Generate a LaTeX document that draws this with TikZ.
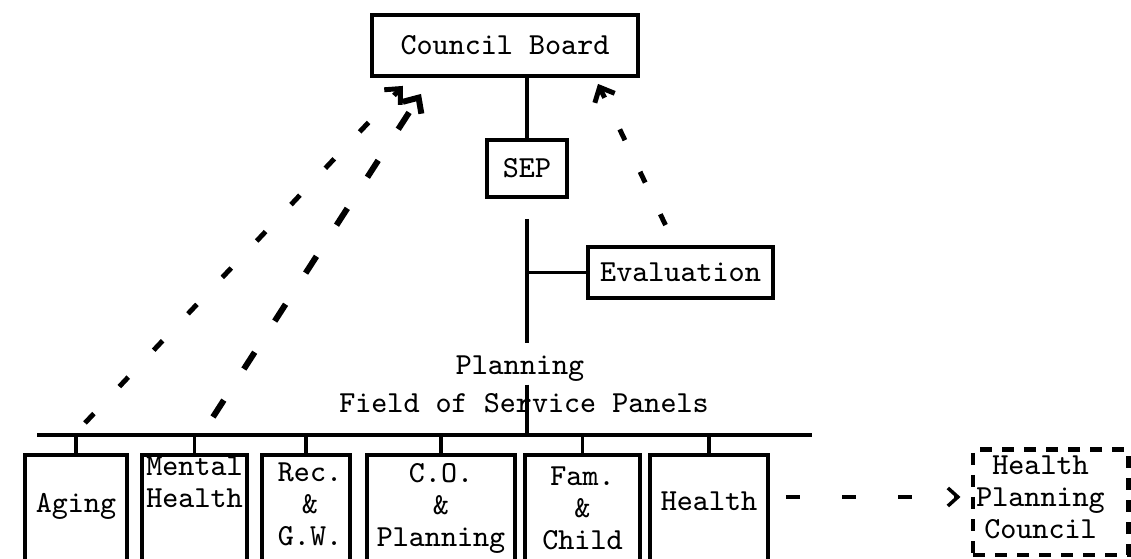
\documentclass[tikz,border=0pt]{standalone}
\usetikzlibrary{arrows.meta, positioning, calc}
\newcommand{\typew}{\fontsize{8.7}{9.1}\selectfont\ttfamily}
\tikzstyle{box} = [rectangle, draw=black, line width=1.1pt, inner sep=0pt, font=\typew]
\tikzstyle{panel} = [box, anchor=north, minimum height=1.3cm]
\tikzstyle{txt} = [inner sep=0pt, align=center, font=\typew]
\tikzstyle{line} = [line width=1pt]
\tikzstyle{back} = [line width=1.4pt, -{Straight Barb[length=1.2mm, width=2.2mm]}]

\begin{document}
\begin{tikzpicture}[x=0.01cm, y=-0.01cm]
\useasboundingbox (0,0) rectangle (1131,559);
\clip (0,0) rectangle (1131,559);

% board and staff
\node[box, minimum width=2.66cm, minimum height=0.61cm] (council) at (505,45.5) {Council Board};
\node[box, minimum width=0.80cm, minimum height=0.57cm] (sep) at (527,168.5) {SEP};
\node[box, minimum width=1.85cm, minimum height=0.51cm] (evaluation) at (680.5,272.5) {Evaluation};

\node[txt, anchor=base] (plan1) at (520,375) {Planning};
\node[txt, anchor=base] (plan2) at (524,413) {Field of Service Panels};

% panels
\coordinate (barL) at (37,435);
\coordinate (barR) at (812,435);
\node[panel, minimum width=1.02cm] (aging) at (76,453) {};
\node[panel, minimum width=1.05cm] (mental) at (194.5,453) {};
\node[panel, minimum width=0.88cm] (rec) at (306,453) {};
\node[panel, minimum width=1.48cm] (co) at (441,453) {};
\node[panel, minimum width=1.15cm] (fam) at (582.5,453) {};
\node[panel, minimum width=1.18cm] (health) at (709,453) {};

\node[txt, below=0.40cm of aging.north] (agingT) {Aging};
\node[txt, below=0.03cm of mental.north] (mentalT) {Mental\\Health};
\node[txt, below=0.09cm of rec.north, xshift=0.04cm] (recT) {Rec.\\\&\\G.W.};
\node[txt, below=0.10cm of co.north] (coT) {C.O.\\\&\\Planning};
\node[txt, below=0.13cm of fam.north] (famT) {Fam.\\\&\\Child};
\node[txt, below=0.38cm of health.north] (healthT) {Health};

\node[box, dash pattern=on 0.12cm off 0.1cm, line width=1.4pt, minimum width=1.55cm, minimum height=1.05cm] (hpc) at (1050.5,502.5) {};
\node[txt, below=0.08cm of hpc.north, xshift=-0.1cm] (hpcT) {Health\\Planning\\Council};

% solid lines
\draw[line] (sep.north |- council.south) -- (sep.north);
\draw[line] ([yshift=-0.2cm]sep.south) -- ([yshift=0.13cm]sep.south |- plan1.north);
\draw[line] ([yshift=-0.02cm]sep.south |- plan1.south) -- (sep.south |- barL);
\draw[line] (sep.south |- evaluation.west) -- (evaluation.west);
\draw[line, line width=1.3pt] (barL) -- (barR);
\foreach \p in {aging,mental,rec,co,fam,health}
  \draw[line] (\p.north |- barL) -- (\p.north);

% dashed lines
\draw[back, dash pattern=on 0.13cm off 0.37cm] ($(aging.north)+(9,-30)$) -- ($(council.south west)+(33,8)$);
\draw[back, line width=1.7pt, dash pattern=on 0.2cm off 0.37cm] ($(mental.north)+(18.5,-36)$) -- ($(council.south west)+(51,16)$);
\draw[back, dash pattern=on 0.12cm off 0.35cm] ($(evaluation.north)+(-15,-20)$) -- ($(council.south east)+(-42,6)$);

\coordinate (hArrow) at ($(health.north east)+(16,44)$);
\draw[line, dash pattern=on 0.14cm off 0.42cm, -{Straight Barb[length=1mm, width=1.8mm]}] (hArrow) -- ([xshift=-0.1cm]hArrow -| hpc.west);
\end{tikzpicture}
\end{document}
